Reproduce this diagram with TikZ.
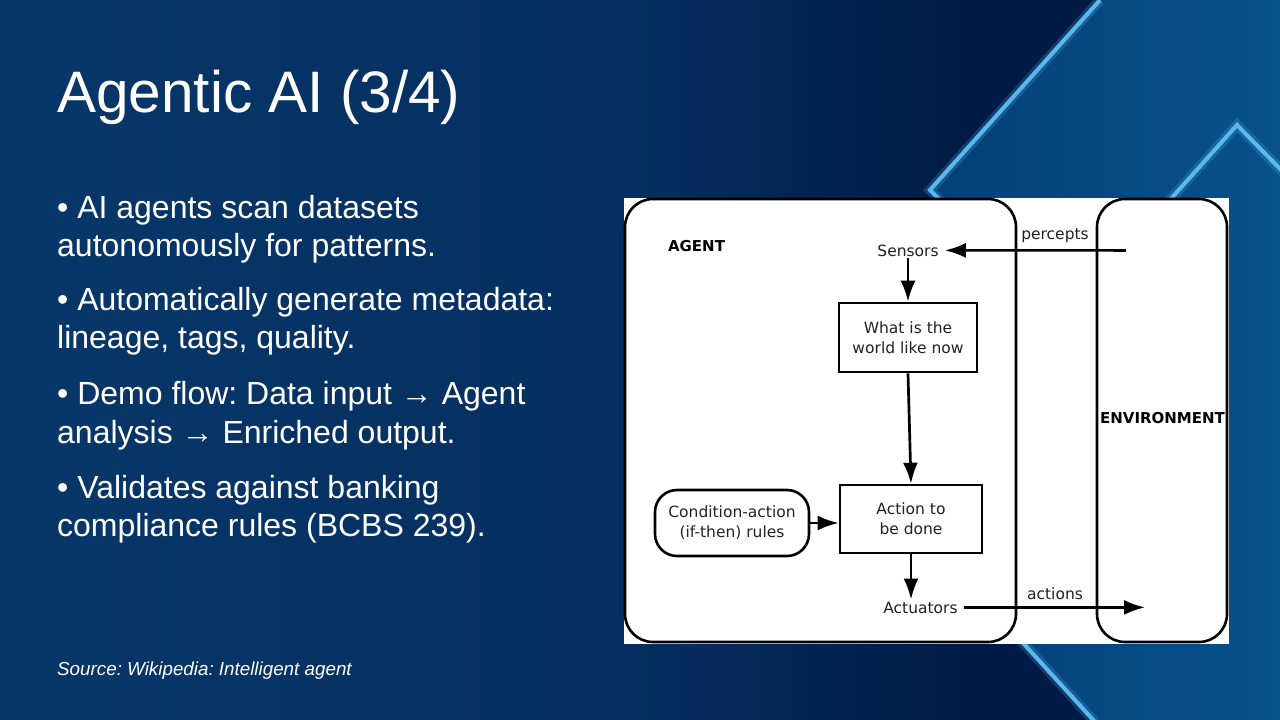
\documentclass[tikz,border=0pt]{standalone}
\usepackage{fontspec}
\setmainfont{Liberation Sans}
\newfontfamily\dvsans{DejaVu Sans}
\usetikzlibrary{arrows.meta}
\definecolor{bgA}{HTML}{073769}
\definecolor{bgB}{HTML}{052F60}
\definecolor{bgC}{HTML}{021B46}
\definecolor{ltA}{HTML}{043F77}
\definecolor{ltB}{HTML}{06528C}
\definecolor{edge}{HTML}{5BB8EE}
\definecolor{dtext}{HTML}{222222}
\frenchspacing
\begin{document}
\begin{tikzpicture}[x=1pt,y=-1pt,
  slidetext/.style={text=white, anchor=base west, inner sep=0pt, font=\fontsize{32}{36}\selectfont},
  dlabel/.style={font=\dvsans\fontsize{15.5}{20}\selectfont, text=dtext, inner xsep=6pt, inner ysep=2pt},
  dbold/.style={font=\dvsans\bfseries\fontsize{15}{20}\selectfont, text=black, inner sep=0pt, anchor=base},
  dbox/.style={dlabel, draw=black, line width=2.6pt, fill=white, align=center, inner sep=0pt},
  frame/.style={draw=black, line width=2.6pt, rounded corners=28pt},
  arr/.style={draw=black, line width=2.7pt, -{Latex[length=21pt,width=15pt]}},
  glow/.style={draw=edge, line width=10pt, opacity=0.22, line join=miter},
  edgeline/.style={draw=edge, line width=4pt, line join=miter}
]
\useasboundingbox (0,0) rectangle (1280,720);
% background
\shade[left color=bgA, right color=bgB] (0,0) rectangle (641,720);
\shade[left color=bgB, right color=bgC] (640,0) rectangle (961,720);
\fill[bgC] (960,0) rectangle (1280,720);
\shade[left color=ltA, right color=ltB] (1100,0) -- (930,190) -- (945,205) -- (1023,643) -- (1093,720) -- (1280,720) -- (1280,0) -- cycle;
% light edges
\draw[glow] (1100,0) -- (930,190) -- (950,210);
\draw[edgeline] (1100,0) -- (930,190) -- (950,210);
\draw[glow] (1013,632) -- (1095,722);
\draw[edgeline] (1013,632) -- (1095,722);
\draw[glow] (1160,211) -- (1237,125) -- (1285,174);
\draw[edgeline] (1160,211) -- (1237,125) -- (1285,174);

% slide text
\node[text=white, anchor=base west, inner sep=0pt, font=\fontsize{58.5}{60}\selectfont] (title) at (57,112) {Agentic AI (3/4)};
\node[slidetext] (b1a) at (57,218) {• AI agents scan datasets};
\node[slidetext] (b1b) at (57,256) {autonomously for patterns.};
\node[slidetext] (b2a) at (57,310) {• Automatically generate metadata:};
\node[slidetext] (b2b) at (57,348) {lineage, tags, quality.};
\node[slidetext] (b3a) at (57,404) {• Demo flow: Data input → Agent};
\node[slidetext] (b3b) at (57,443) {analysis → Enriched output.};
\node[slidetext] (b4a) at (57,498) {• Validates against banking};
\node[slidetext] (b4b) at (57,536) {compliance rules (BCBS 239).};
\node[text=white, anchor=base west, inner sep=0pt, font=\itshape\fontsize{18.8}{21}\selectfont] (src) at (57,675) {Source: Wikipedia: Intelligent agent};

% diagram
\fill[white] (624,198) rectangle (1229,644);
\node[frame, minimum width=391pt, minimum height=443pt] (agentframe) at (820.5,420.5) {};
\node[frame, minimum width=130pt, minimum height=443pt] (envframe) at (1162,420.5) {};
\node[dbold] (agentlbl) at (696.5,251) {AGENT};
\node[dbold] (envlbl) at (1162.5,423) {ENVIRONMENT};

\node[dlabel, anchor=base] (sensors) at (908,256) {Sensors};
\node[dbox, minimum width=138pt, minimum height=69pt] (world) at (908,337.5) {What is the\\world like now};
\node[dbox, minimum width=142pt, minimum height=68pt] (action) at (911,519) {Action to\\be done};
\node[dbox, rounded corners=22pt, minimum width=154pt, minimum height=66pt] (cond) at (732,523) {Condition-action\\(if-then) rules};
\node[dlabel, anchor=base] (act) at (920.5,613) {Actuators};
\coordinate (penv) at (1126,250.4);
\coordinate (aenv) at (1145,607.4);
\node[dlabel, anchor=base, inner sep=0pt] (perlbl) at (1055,239) {percepts};
\node[dlabel, anchor=base, inner sep=0pt] (actlbl) at (1055,599) {actions};

\draw[arr] (penv) -- (sensors.east);
\draw[arr] (sensors.south) -- (world.north);
\draw[arr] (world.south) -- (action.north);
\draw[arr] (cond.east) -- (cond.east -| action.west);
\draw[arr] (action.south) -- (action.south |- act.north);
\draw[arr] (act.east) -- (aenv);
\end{tikzpicture}
\end{document}
